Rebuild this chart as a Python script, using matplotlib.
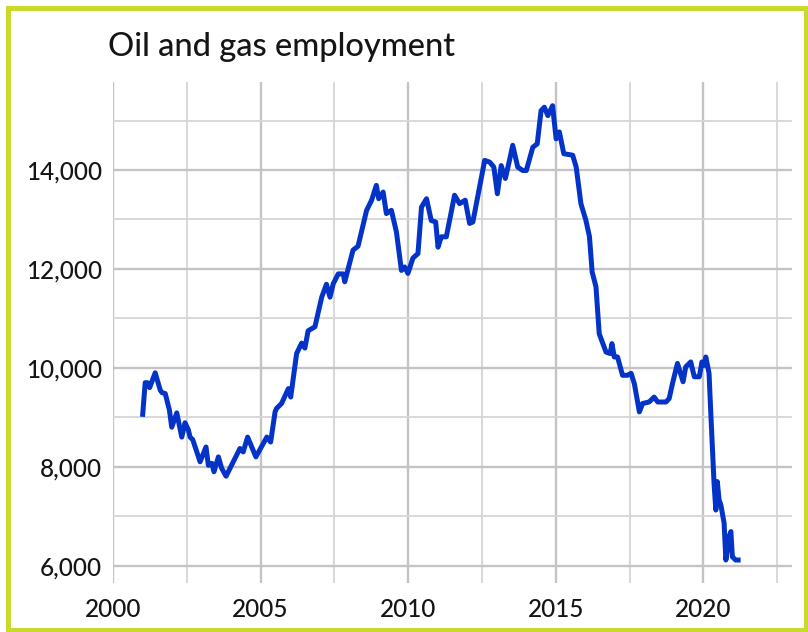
import matplotlib
matplotlib.use("Agg")
import matplotlib.pyplot as plt
from matplotlib.patches import Rectangle
from matplotlib.ticker import MultipleLocator, FuncFormatter

title = "Oil and gas employment"
years = [2001.00, 2001.09, 2001.17, 2001.24, 2001.43, 2001.60, 2001.66, 2001.77, 2001.91, 2001.99,
         2002.16, 2002.33, 2002.44, 2002.55, 2002.61, 2002.70, 2002.95, 2003.15, 2003.23, 2003.35,
         2003.42, 2003.57, 2003.68, 2003.83, 2004.30, 2004.41, 2004.56, 2004.84, 2005.21, 2005.34,
         2005.49, 2005.54, 2005.71, 2005.94, 2006.02, 2006.22, 2006.39, 2006.50, 2006.61, 2006.84,
         2007.07, 2007.23, 2007.35, 2007.46, 2007.63, 2007.80, 2007.85, 2008.13, 2008.30, 2008.59,
         2008.76, 2008.92, 2009.00, 2009.15, 2009.26, 2009.43, 2009.60, 2009.77, 2009.88, 2009.99,
         2010.16, 2010.33, 2010.45, 2010.62, 2010.78, 2010.93, 2011.01, 2011.12, 2011.29, 2011.57,
         2011.74, 2011.93, 2012.08, 2012.19, 2012.59, 2012.76, 2012.90, 2013.02, 2013.15, 2013.29,
         2013.43, 2013.54, 2013.71, 2013.88, 2014.00, 2014.22, 2014.37, 2014.50, 2014.61, 2014.73,
         2014.89, 2015.01, 2015.12, 2015.27, 2015.57, 2015.69, 2015.85, 2016.02, 2016.14, 2016.23,
         2016.36, 2016.47, 2016.70, 2016.84, 2016.90, 2016.98, 2017.09, 2017.26, 2017.43, 2017.55,
         2017.66, 2017.83, 2017.94, 2018.16, 2018.33, 2018.45, 2018.73, 2018.84, 2018.95, 2019.12,
         2019.31, 2019.40, 2019.57, 2019.69, 2019.86, 2019.95, 2020.03, 2020.08, 2020.19, 2020.25,
         2020.36, 2020.42, 2020.47, 2020.53, 2020.59, 2020.70, 2020.76, 2020.87, 2020.93, 2020.98,
         2021.09, 2021.26]
employment = [9010, 9700, 9700, 9600, 9900, 9550, 9500, 9480, 9150, 8800,
              9090, 8600, 8890, 8750, 8600, 8550, 8100, 8400, 8030, 8070,
              7900, 8200, 7970, 7810, 8370, 8300, 8600, 8200, 8600, 8500,
              9110, 9180, 9280, 9580, 9410, 10290, 10500, 10400, 10750, 10830,
              11430, 11690, 11430, 11700, 11900, 11900, 11740, 12380, 12460, 13185,
              13390, 13690, 13420, 13555, 13120, 13185, 12750, 11970, 12040, 11910,
              12220, 12310, 13250, 13420, 12980, 12950, 12440, 12650, 12650, 13490,
              13320, 13390, 12920, 12950, 14195, 14160, 14060, 13520, 14090, 13830,
              14195, 14500, 14060, 13990, 13990, 14460, 14530, 15200, 15270, 15100,
              15300, 14630, 14770, 14330, 14300, 14060, 13320, 12980, 12650, 11940,
              11640, 10690, 10320, 10290, 10490, 10220, 10220, 9850, 9850, 9890,
              9680, 9110, 9280, 9310, 9410, 9310, 9310, 9380, 9680, 10090,
              9720, 10020, 10120, 9820, 9820, 10120, 10050, 10220, 9890, 9080,
              7660, 7125, 7700, 7330, 7230, 6860, 6115, 6590, 6690, 6180,
              6115, 6115]
x_ticks = [2000, 2005, 2010, 2015, 2020]
y_ticks = [6000, 8000, 10000, 12000, 14000]

W, H = 808, 632
fig = plt.figure(figsize=(W / 100, H / 100), dpi=100)
fig.patch.set_facecolor("white")

ax = fig.add_axes([113 / W, 1 - 583 / H, (792 - 113) / W, (583 - 82) / H])
ax.plot(years, employment, color="#0433c8", lw=3.6, solid_joinstyle="round",
        solid_capstyle="butt", zorder=3)

ax.set_xlim(2000, 2023)
ax.set_ylim(5650, 15780)
ax.set_xticks(x_ticks)
ax.set_yticks(y_ticks)
ax.xaxis.set_minor_locator(MultipleLocator(2.5))
ax.yaxis.set_minor_locator(MultipleLocator(1000))
ax.yaxis.set_major_formatter(FuncFormatter(lambda v, p: f"{int(v):,}"))
ax.grid(which="major", color="#c4c4c4", lw=1.7, zorder=0)
ax.grid(which="minor", color="#d6d6d6", lw=1.3, zorder=0)
ax.set_axisbelow(True)
for s in ax.spines.values():
    s.set_visible(False)
ax.tick_params(which="both", length=0)
ax.tick_params(axis="y", pad=8, labelsize=17.5, labelcolor="#151515")
ax.tick_params(axis="x", pad=11, labelsize=17.5, labelcolor="#151515")
for lab in ax.get_xticklabels() + ax.get_yticklabels():
    lab.set_fontfamily("Lato")
    lab.set_fontweight("medium")

fig.text(108 / W, 1 - 56 / H, title, fontsize=23.5, family="Lato",
         fontweight="medium", color="#151515", ha="left", va="baseline")

fig.patches.append(Rectangle((7.5 / W, 2.5 / H), (W - 10) / W, (H - 10) / H,
                             transform=fig.transFigure, fill=False,
                             edgecolor="#cbd82c", lw=3.6, zorder=10))

fig.savefig("out.png", dpi=100, facecolor="white")
